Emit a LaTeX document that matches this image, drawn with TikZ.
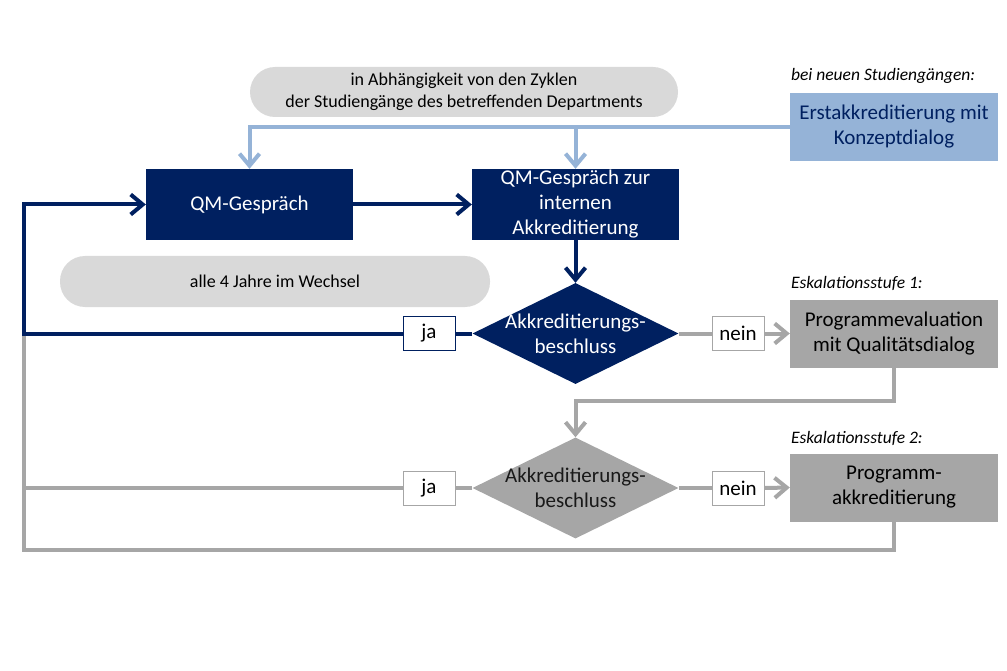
\documentclass[tikz,border=0pt]{standalone}
\usepackage{fontspec}
\setmainfont{Carlito}
\usetikzlibrary{arrows.meta,shapes.geometric,positioning}
\definecolor{navy}{HTML}{002060}
\definecolor{hellblau}{HTML}{95B3D7}
\definecolor{mittelgrau}{HTML}{A6A6A6}
\definecolor{hellgrau}{HTML}{D9D9D9}

\begin{document}
\begin{tikzpicture}[x=1pt,y=-1pt,
    kasten/.style={rectangle,minimum width=208pt,minimum height=70pt,inner sep=0pt,align=center,font=\fontsize{21}{25}\selectfont},
    raute/.style={diamond,minimum width=206pt,minimum height=101pt,inner sep=0pt},
    rautentext/.style={inner sep=0pt,align=center,font=\fontsize{21}{25}\selectfont},
    pille/.style={rectangle,rounded corners=25pt,fill=hellgrau,minimum height=50pt,inner sep=0pt,align=center,font=\fontsize{18}{22}\selectfont},
    antwort/.style={rectangle,draw,line width=1pt,fill=white,minimum width=52pt,minimum height=34pt,inner sep=0pt,font=\fontsize{21}{25}\selectfont},
    stufe/.style={inner sep=0pt,text depth=0pt,font=\fontsize{17.5}{21}\selectfont\itshape},
    pfeil/.style={-{Straight Barb[length=12pt,width=20pt]}},
    linieblau/.style={draw=hellblau,line width=4pt},
    linienavy/.style={draw=navy,line width=4pt},
    liniegrau/.style={draw=mittelgrau,line width=4pt}]
    \useasboundingbox (0,0) rectangle (1007,671);
    \node[pille,minimum width=428pt] (zyklen) at (464,92) {in Abhängigkeit von den Zyklen\\der Studiengänge des betreffenden Departments};
    \node[pille,minimum width=430pt,minimum height=51pt] (wechsel) at (275,281.5) {alle 4 Jahre im Wechsel};
    \node[kasten,fill=navy,text=white,minimum width=207pt,minimum height=71pt] (qm) at (249.5,204.5) {QM-Gespräch};
    \node[kasten,fill=navy,text=white,minimum width=207pt,minimum height=71pt] (qmintern) at (575.5,204.5) {QM-Gespräch zur\\internen\\Akkreditierung};
    \node[kasten,fill=hellblau,text=navy,minimum height=68pt] (erst) at (894,127) {Erstakkreditierung mit\\Konzeptdialog};
    \node[raute,fill=navy] (beschluss1) at (575.5,333.5) {};
    \node[rautentext,text=white] (beschlusstext1) at (beschluss1) {Akkreditierungs-\\beschluss};
    \node[kasten,fill=mittelgrau,minimum height=68pt] (evaluation) at (894,333.5) {Programmevaluation\\mit Qualitätsdialog};
    \node[raute,fill=mittelgrau] (beschluss2) at (575.5,488) {};
    \node[rautentext,text=black!90] (beschlusstext2) at (beschluss2) {Akkreditierungs-\\beschluss};
    \node[kasten,fill=mittelgrau,minimum height=68pt] (programm) at (894,487.5) {Programm-\\akkreditierung};
    \node[antwort,draw=navy] (ja1) at (429,333.5) {ja};
    \node[antwort,draw=mittelgrau] (nein1) at (738,333.5) {nein};
    \node[antwort,draw=mittelgrau] (ja2) at (429,488) {ja};
    \node[antwort,draw=mittelgrau] (nein2) at (738,488) {nein};
    \node[stufe,above right=12pt and 1pt of erst.north west] (neu) {bei neuen Studiengängen:};
    \node[stufe,above right=11pt and 1pt of evaluation.north west] (stufe1) {Eskalationsstufe 1:};
    \node[stufe,above right=10pt and 1pt of programm.north west] (stufe2) {Eskalationsstufe 2:};
    \coordinate (links) at (24,333.5);
    % grau
    \draw[liniegrau] (beschluss1.east) -- (nein1.west);
    \draw[liniegrau,pfeil] (nein1.east) -- (evaluation.west);
    \draw[liniegrau,pfeil] (evaluation.south) -- ++(0,33) -| (beschluss2.north);
    \draw[liniegrau] (beschluss2.west) -- (ja2.east);
    \draw[liniegrau] (ja2.west) -- (links |- ja2.west);
    \draw[liniegrau] (beschluss2.east) -- (nein2.west);
    \draw[liniegrau,pfeil] (nein2.east) -- (programm.west);
    \draw[liniegrau] (programm.south) -- ++(0,28) -| (links);
    % navy
    \draw[linienavy,pfeil] (qm) -- (qmintern);
    \draw[linienavy,pfeil] (qmintern.south) -- (beschluss1.north);
    \draw[linienavy] (beschluss1.west) -- (ja1.east);
    \draw[linienavy,pfeil] (ja1.west) -- (links) |- (qm.west);
    % blau
    \draw[linieblau,pfeil] (erst.west) -| (qm.north);
    \draw[linieblau,pfeil] (erst.west -| qmintern.north) -- (qmintern.north);
\end{tikzpicture}
\end{document}
